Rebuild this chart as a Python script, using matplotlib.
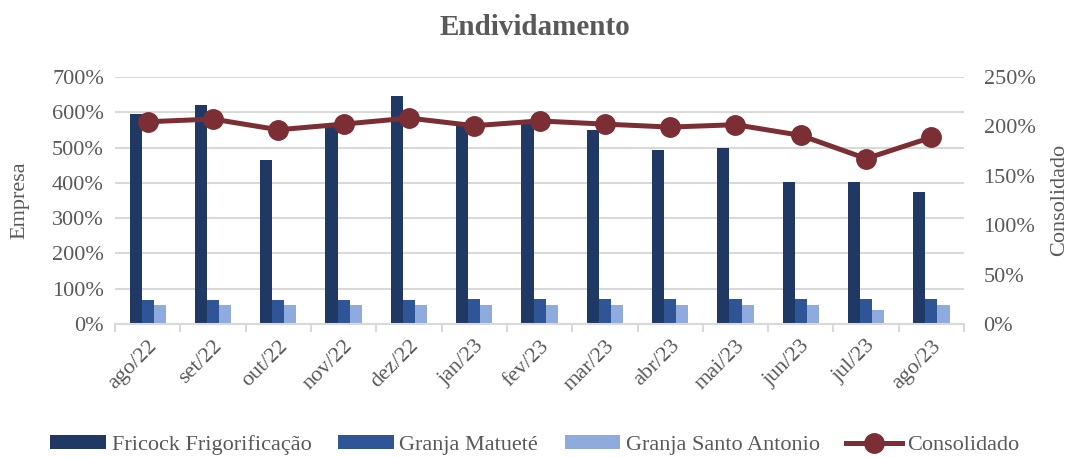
import matplotlib
matplotlib.use("Agg")
import matplotlib.pyplot as plt
import numpy as np
from matplotlib.ticker import FuncFormatter, MultipleLocator

categories = ["ago/22", "set/22", "out/22", "nov/22", "dez/22", "jan/23", "fev/23",
              "mar/23", "abr/23", "mai/23", "jun/23", "jul/23", "ago/23"]
fricock = [594, 622, 466, 565, 647, 562, 578, 551, 492, 498, 401, 403, 375]
matuete = [67, 69, 69, 69, 69, 70, 70, 70, 70, 70, 71, 71, 72]
santo_antonio = [54, 54, 54, 54, 54, 54, 55, 55, 55, 55, 55, 41, 55]
consolidado = [204.7, 207.4, 196.6, 202.3, 208.4, 200.7, 205.5, 202.3, 199.3, 201.7, 190.9, 167.4, 188.9]

c_dark = "#203864"
c_mid = "#2F5597"
c_light = "#8FAADC"
c_line = "#7B2F35"
c_text = "#595959"
c_grid = "#D9D9D9"

plt.rcParams['font.family'] = ['Liberation Serif', 'DejaVu Serif']

fig = plt.figure(figsize=(10.7, 4.58), dpi=100)
ax = fig.add_axes([0.1075, 0.2926, 0.7935, 0.5393])
ax2 = ax.twinx()

x = np.arange(len(categories))
w = 0.185
b1 = ax.bar(x - w, fricock, w, color=c_dark, label="Fricock Frigorificação", zorder=2)
b2 = ax.bar(x, matuete, w, color=c_mid, label="Granja Matueté", zorder=2)
b3 = ax.bar(x + w, santo_antonio, w, color=c_light, label="Granja Santo Antonio", zorder=2)
l1, = ax2.plot(x, consolidado, color=c_line, lw=3.6, marker='o', markersize=14,
               label="Consolidado", zorder=3)

ax.set_xlim(-0.5, len(categories) - 0.5)
ax.set_ylim(0, 700)
ax2.set_ylim(0, 250)
ax.yaxis.set_major_locator(MultipleLocator(100))
ax2.yaxis.set_major_locator(MultipleLocator(50))
pct = FuncFormatter(lambda v, p: f"{v:.0f}%")
ax.yaxis.set_major_formatter(pct)
ax2.yaxis.set_major_formatter(pct)

ax.grid(axis='y', color=c_grid, lw=1.5, zorder=0)
ax.set_axisbelow(True)
for a in (ax, ax2):
    for s in ['top', 'left', 'right', 'bottom']:
        a.spines[s].set_visible(False)
    a.tick_params(axis='y', length=0, labelsize=16, labelcolor=c_text)
ax.tick_params(axis='y', pad=8)
ax2.tick_params(axis='y', pad=14)
ax.spines['bottom'].set_visible(True)
ax.spines['bottom'].set_color(c_grid)
ax.spines['bottom'].set_linewidth(1.5)

ax.set_xticks(x)
ax.set_xticklabels(categories, rotation=45, ha='right', rotation_mode='anchor')
ax.tick_params(axis='x', length=0, labelsize=16, labelcolor=c_text, pad=9)
ax.set_xticks(np.arange(-0.5, len(categories)), minor=True)
ax.tick_params(axis='x', which='minor', length=6, color=c_grid, width=1.5)

fig.text(20 / 1070, 1 - 200 / 458, "Empresa", rotation=90, ha='center', va='center',
         fontsize=16, color=c_text)
fig.text(1060 / 1070, 1 - 200 / 458, "Consolidado", rotation=90, ha='center', va='center',
         fontsize=16, color=c_text)

fig.text(0.5, 0.939, "Endividamento", ha='center', va='center', fontsize=21,
         fontweight='bold', color=c_text)

leg = fig.legend(handles=[b1, b2, b3, l1], loc='center', bbox_to_anchor=(0.5, 0.028),
                 ncol=4, frameon=False, fontsize=16, handlelength=2.5, handleheight=0.6,
                 columnspacing=1.2, handletextpad=0.25)
for t in leg.get_texts():
    t.set_color(c_text)

fig.savefig("out.png", dpi=100)
